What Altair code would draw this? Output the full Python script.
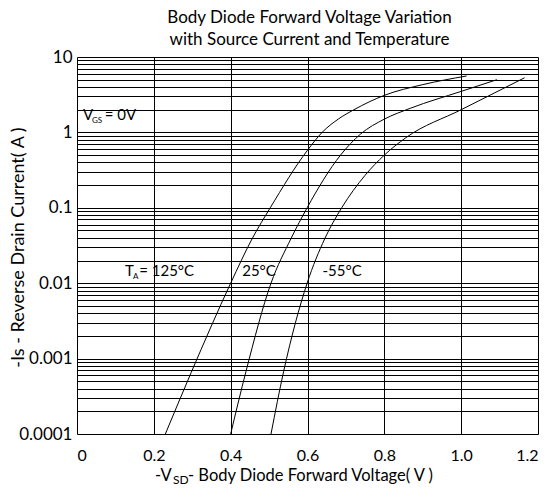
import altair as alt
import pandas as pd

# ---- data ----
temps = ["125°C", "25°C", "-55°C"]
vsd_125 = [0.23, 0.297, 0.40, 0.456, 0.503, 0.60, 0.638, 0.68, 0.721, 0.80, 0.90, 1.014]
is_125 = [0.0001, 0.00065, 0.01, 0.039, 0.1, 0.58, 1.0, 1.5, 2.0, 3.1, 4.3, 5.6]
vsd_25 = [0.40, 0.44, 0.505, 0.557, 0.599, 0.686, 0.738, 0.80, 0.869, 1.0, 1.093]
is_25 = [0.0001, 0.00068, 0.01, 0.039, 0.1, 0.5, 0.95, 1.5, 2.1, 3.5, 5.0]
vsd_m55 = [0.505, 0.538, 0.599, 0.645, 0.689, 0.75, 0.80, 0.856, 1.0, 1.165]
is_m55 = [0.0001, 0.00068, 0.01, 0.039, 0.1, 0.27, 0.5, 0.85, 2.0, 5.3]

x_ticks = [0, 0.2, 0.4, 0.6, 0.8, 1.0, 1.2]
decades = [0.0001, 0.001, 0.01, 0.1, 1, 10]

label_text = ["V", "GS", "= 0V", "T", "A", "= 125°C", "25°C", "-55°C"]
label_v = [0.0157, 0.039, 0.072, 0.125, 0.146, 0.162, 0.430, 0.639]
label_i = [1.70, 1.41, 1.70, 0.0146, 0.0121, 0.0146, 0.0146, 0.0146]
label_fs = [15, 8, 15, 15, 8, 15, 15, 15]

rows = []
for t, xs, ys in zip(temps, [vsd_125, vsd_25, vsd_m55], [is_125, is_25, is_m55]):
    for k, (x, y) in enumerate(zip(xs, ys)):
        rows.append({"T": t, "V": x, "I": y, "o": k})
df = pd.DataFrame(rows)

y_grid = sorted({round(m * d, 6) for d in decades[:-1] for m in range(1, 10)} | {10})

lab = pd.DataFrame({"t": label_text, "V": label_v, "I": label_i, "fs": label_fs})

FONT = "Lato"
xscale = alt.Scale(domain=[0, 1.2], nice=False, zero=False)
yscale = alt.Scale(type="log", domain=[0.0001, 10], nice=False)

ylabel_expr = ("abs(log(datum.value)/LN10 - round(log(datum.value)/LN10)) < 0.001 "
               "? format(datum.value, '.4~f') : ''")

xaxis = alt.Axis(values=x_ticks, grid=True, ticks=False, domain=False,
                 labelExpr="datum.value == 0 ? '0' : format(datum.value, '.1f')",
                 labelFont=FONT, labelFontSize=16, labelColor="black",
                 labelPadding=13, labelOverlap=False, title=None,
                 gridColor="black", gridWidth=1)
yaxis = alt.Axis(values=y_grid, grid=True, ticks=False, domain=False,
                 labelExpr=ylabel_expr, labelFont=FONT, labelFontSize=17,
                 labelColor="black", labelPadding=5, labelOverlap=False,
                 title="-Is - Reverse Drain Current( A )", titleFont=FONT,
                 titleFontSize=18, titleFontWeight="normal", titleColor="black",
                 titleX=-59, titleY=190, titleAngle=270, titleAlign="center",
                 titleBaseline="middle",
                 gridColor="black", gridWidth=1)

lines = alt.Chart(df).mark_line(color="black", strokeWidth=1, interpolate="monotone").encode(
    x=alt.X("V:Q", scale=xscale, axis=xaxis),
    y=alt.Y("I:Q", scale=yscale, axis=yaxis),
    detail="T:N",
    order="o:Q",
)

labels = alt.Chart(lab).mark_text(align="left", baseline="middle", font=FONT, color="black").encode(
    x=alt.X("V:Q", scale=xscale, axis=xaxis),
    y=alt.Y("I:Q", scale=yscale, axis=yaxis),
    text="t:N",
    size=alt.Size("fs:Q", scale=None),
)

xt_text = ["-V", "SD", "- Body Diode Forward Voltage( V )"]
xt_x = [78, 96, 111]
xt_y = [419, 423, 419]
xt_fs = [16.5, 12, 16.5]
xtitle_layers = [
    alt.Chart(pd.DataFrame({"t": [t]})).mark_text(
        align="left", baseline="middle", font=FONT, fontSize=fs, color="black"
    ).encode(x=alt.value(xx), y=alt.value(yy), text="t:N")
    for t, xx, yy, fs in zip(xt_text, xt_x, xt_y, xt_fs)
]

chart = alt.layer(lines, labels, *xtitle_layers).properties(
    width=461,
    height=377,
    autosize=alt.AutoSizeParams(type="none"),
    padding={"left": 77, "top": 57, "right": 19, "bottom": 57},
    title=alt.TitleParams(
        ["Body Diode Forward Voltage Variation", "with Source Current and Temperature"],
        font=FONT, fontSize=17, fontWeight="normal", lineHeight=22,
        anchor="middle", offset=2, color="black", dx=2, dy=3,
    ),
).configure_view(stroke="black", strokeWidth=1).configure(background="white")

chart.save("out.html", embed_options={"renderer": "svg", "actions": False})
